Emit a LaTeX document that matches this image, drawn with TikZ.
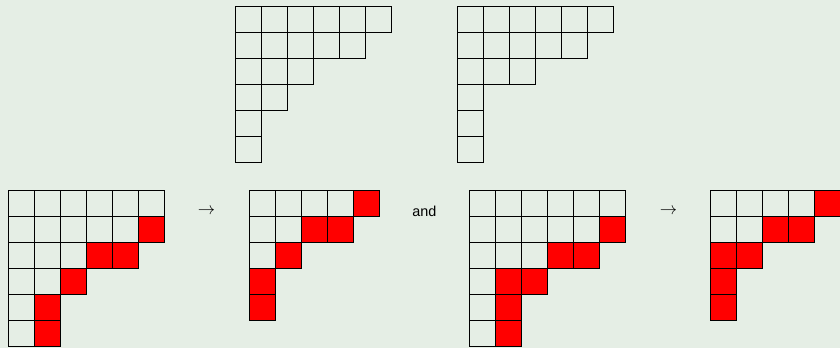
\documentclass[tikz,border=0pt]{standalone}
\usepackage{fontspec}
\newfontfamily\andfont{Liberation Sans}
\definecolor{bgcol}{RGB}{229,238,229}
\newcommand\myYD[3]{% left, top, row lengths
  \foreach \len [count=\r] in {#3} {%
    \foreach \c in {1,...,\len} {%
      \draw[cell] ({#1+(\c-1)*26},{#2+(\r-1)*26}) rectangle ++(26,26);
    }%
  }%
}
\newcommand\myRed[3]{% left, top, list of col/row
  \foreach \c/\r in {#3} {%
    \fill[red] ({#1+(\c-1)*26},{#2+(\r-1)*26}) rectangle ++(26,26);
  }%
}
\begin{document}
\begin{tikzpicture}[x=1pt,y=-1pt,
  cell/.style={draw=black,line width=0.8pt},
  arrowtxt/.style={font=\fontsize{17.28}{20}\selectfont, inner sep=0pt},
  andtxt/.style={font=\andfont\fontsize{14.4}{16}\selectfont, inner sep=0pt}]
\useasboundingbox (0,0) rectangle (840,348);
\fill[bgcol] (0,0) rectangle (840,348);
\clip (0,0) rectangle (840,348);
% top diagrams
\myYD{235.7}{6.3}{6,5,3,2,1,1}
\myYD{457.3}{6.3}{6,5,3,1,1,1}
% bottom diagram 1
\myRed{8}{190.3}{6/2,4/3,5/3,3/4,2/5,2/6}
\myYD{8}{190.3}{6,6,5,3,2,2}
% bottom diagram 2
\myRed{249}{190.3}{5/1,3/2,4/2,2/3,1/4,1/5}
\myYD{249}{190.3}{5,4,2,1,1}
% bottom diagram 3
\myRed{469.7}{190.3}{6/2,4/3,5/3,2/4,3/4,2/5,2/6}
\myYD{469.7}{190.3}{6,6,5,3,2,2}
% bottom diagram 4
\myRed{710.7}{190.3}{5/1,3/2,4/2,1/3,2/3,1/4,1/5}
\myYD{710.7}{190.3}{5,4,2,1,1}
% texts
\node[arrowtxt] (arr1) at (206.5,211.8) {$\rightarrow$};
\node[andtxt] (andw) at (424.3,211.5) {and};
\node[arrowtxt] (arr2) at (668.5,211.8) {$\rightarrow$};
\end{tikzpicture}
\end{document}
